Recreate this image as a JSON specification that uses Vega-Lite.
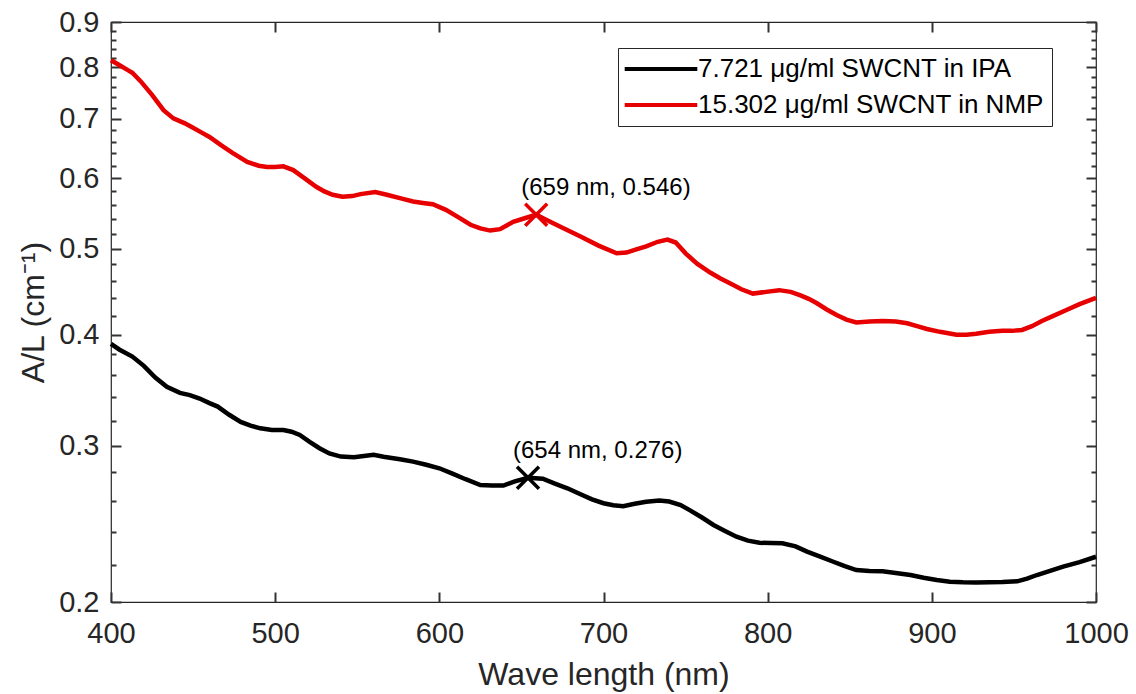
{
  "$schema": "https://vega.github.io/schema/vega-lite/v6.json",
  "width": 985,
  "height": 580,
  "autosize": {"type": "none"},
  "padding": {"left": 111, "top": 22, "right": 40, "bottom": 92},
  "background": "white",
  "config": {
    "font": "Liberation Sans",
    "view": {"stroke": "#262626", "strokeWidth": 1.2},
    "axis": {
      "grid": false,
      "labelFont": "Liberation Sans",
      "titleFont": "Liberation Sans",
      "labelColor": "#262626",
      "titleColor": "#262626",
      "titleFontWeight": "normal"
    }
  },
  "datasets": {
    "curves": [
      {"s": "15.302 μg/ml SWCNT in NMP", "wl": 400, "v": 0.815},
      {"s": "15.302 μg/ml SWCNT in NMP", "wl": 405, "v": 0.805},
      {"s": "15.302 μg/ml SWCNT in NMP", "wl": 410, "v": 0.795},
      {"s": "15.302 μg/ml SWCNT in NMP", "wl": 413, "v": 0.789},
      {"s": "15.302 μg/ml SWCNT in NMP", "wl": 418, "v": 0.772},
      {"s": "15.302 μg/ml SWCNT in NMP", "wl": 425, "v": 0.745},
      {"s": "15.302 μg/ml SWCNT in NMP", "wl": 432, "v": 0.716},
      {"s": "15.302 μg/ml SWCNT in NMP", "wl": 438, "v": 0.701},
      {"s": "15.302 μg/ml SWCNT in NMP", "wl": 445, "v": 0.692},
      {"s": "15.302 μg/ml SWCNT in NMP", "wl": 450, "v": 0.684},
      {"s": "15.302 μg/ml SWCNT in NMP", "wl": 455, "v": 0.676},
      {"s": "15.302 μg/ml SWCNT in NMP", "wl": 460, "v": 0.668},
      {"s": "15.302 μg/ml SWCNT in NMP", "wl": 467, "v": 0.654},
      {"s": "15.302 μg/ml SWCNT in NMP", "wl": 474, "v": 0.641},
      {"s": "15.302 μg/ml SWCNT in NMP", "wl": 483, "v": 0.626},
      {"s": "15.302 μg/ml SWCNT in NMP", "wl": 490, "v": 0.62},
      {"s": "15.302 μg/ml SWCNT in NMP", "wl": 495, "v": 0.618},
      {"s": "15.302 μg/ml SWCNT in NMP", "wl": 500, "v": 0.618},
      {"s": "15.302 μg/ml SWCNT in NMP", "wl": 505, "v": 0.619},
      {"s": "15.302 μg/ml SWCNT in NMP", "wl": 511, "v": 0.613},
      {"s": "15.302 μg/ml SWCNT in NMP", "wl": 518, "v": 0.6},
      {"s": "15.302 μg/ml SWCNT in NMP", "wl": 525, "v": 0.587},
      {"s": "15.302 μg/ml SWCNT in NMP", "wl": 530, "v": 0.58},
      {"s": "15.302 μg/ml SWCNT in NMP", "wl": 535, "v": 0.575},
      {"s": "15.302 μg/ml SWCNT in NMP", "wl": 541, "v": 0.572},
      {"s": "15.302 μg/ml SWCNT in NMP", "wl": 547, "v": 0.573},
      {"s": "15.302 μg/ml SWCNT in NMP", "wl": 552, "v": 0.576},
      {"s": "15.302 μg/ml SWCNT in NMP", "wl": 561, "v": 0.579},
      {"s": "15.302 μg/ml SWCNT in NMP", "wl": 568, "v": 0.575},
      {"s": "15.302 μg/ml SWCNT in NMP", "wl": 576, "v": 0.57},
      {"s": "15.302 μg/ml SWCNT in NMP", "wl": 584, "v": 0.565},
      {"s": "15.302 μg/ml SWCNT in NMP", "wl": 590, "v": 0.563},
      {"s": "15.302 μg/ml SWCNT in NMP", "wl": 596, "v": 0.561},
      {"s": "15.302 μg/ml SWCNT in NMP", "wl": 604, "v": 0.553},
      {"s": "15.302 μg/ml SWCNT in NMP", "wl": 612, "v": 0.542},
      {"s": "15.302 μg/ml SWCNT in NMP", "wl": 619, "v": 0.532},
      {"s": "15.302 μg/ml SWCNT in NMP", "wl": 625, "v": 0.527},
      {"s": "15.302 μg/ml SWCNT in NMP", "wl": 631, "v": 0.524},
      {"s": "15.302 μg/ml SWCNT in NMP", "wl": 637, "v": 0.526},
      {"s": "15.302 μg/ml SWCNT in NMP", "wl": 645, "v": 0.536},
      {"s": "15.302 μg/ml SWCNT in NMP", "wl": 652, "v": 0.541},
      {"s": "15.302 μg/ml SWCNT in NMP", "wl": 659, "v": 0.546},
      {"s": "15.302 μg/ml SWCNT in NMP", "wl": 665, "v": 0.539},
      {"s": "15.302 μg/ml SWCNT in NMP", "wl": 675, "v": 0.528},
      {"s": "15.302 μg/ml SWCNT in NMP", "wl": 686, "v": 0.516},
      {"s": "15.302 μg/ml SWCNT in NMP", "wl": 697, "v": 0.504},
      {"s": "15.302 μg/ml SWCNT in NMP", "wl": 708, "v": 0.494},
      {"s": "15.302 μg/ml SWCNT in NMP", "wl": 714, "v": 0.495},
      {"s": "15.302 μg/ml SWCNT in NMP", "wl": 720, "v": 0.499},
      {"s": "15.302 μg/ml SWCNT in NMP", "wl": 726, "v": 0.503},
      {"s": "15.302 μg/ml SWCNT in NMP", "wl": 733, "v": 0.509},
      {"s": "15.302 μg/ml SWCNT in NMP", "wl": 739, "v": 0.512},
      {"s": "15.302 μg/ml SWCNT in NMP", "wl": 744, "v": 0.508},
      {"s": "15.302 μg/ml SWCNT in NMP", "wl": 750, "v": 0.494},
      {"s": "15.302 μg/ml SWCNT in NMP", "wl": 757, "v": 0.481},
      {"s": "15.302 μg/ml SWCNT in NMP", "wl": 765, "v": 0.47},
      {"s": "15.302 μg/ml SWCNT in NMP", "wl": 771, "v": 0.463},
      {"s": "15.302 μg/ml SWCNT in NMP", "wl": 777, "v": 0.457},
      {"s": "15.302 μg/ml SWCNT in NMP", "wl": 784, "v": 0.45},
      {"s": "15.302 μg/ml SWCNT in NMP", "wl": 791, "v": 0.445},
      {"s": "15.302 μg/ml SWCNT in NMP", "wl": 799, "v": 0.447},
      {"s": "15.302 μg/ml SWCNT in NMP", "wl": 807, "v": 0.449},
      {"s": "15.302 μg/ml SWCNT in NMP", "wl": 814, "v": 0.447},
      {"s": "15.302 μg/ml SWCNT in NMP", "wl": 820, "v": 0.443},
      {"s": "15.302 μg/ml SWCNT in NMP", "wl": 825, "v": 0.439},
      {"s": "15.302 μg/ml SWCNT in NMP", "wl": 830, "v": 0.434},
      {"s": "15.302 μg/ml SWCNT in NMP", "wl": 836, "v": 0.427},
      {"s": "15.302 μg/ml SWCNT in NMP", "wl": 842, "v": 0.421},
      {"s": "15.302 μg/ml SWCNT in NMP", "wl": 848, "v": 0.416},
      {"s": "15.302 μg/ml SWCNT in NMP", "wl": 854, "v": 0.413},
      {"s": "15.302 μg/ml SWCNT in NMP", "wl": 862, "v": 0.414},
      {"s": "15.302 μg/ml SWCNT in NMP", "wl": 870, "v": 0.4145},
      {"s": "15.302 μg/ml SWCNT in NMP", "wl": 878, "v": 0.414},
      {"s": "15.302 μg/ml SWCNT in NMP", "wl": 885, "v": 0.412},
      {"s": "15.302 μg/ml SWCNT in NMP", "wl": 891, "v": 0.409},
      {"s": "15.302 μg/ml SWCNT in NMP", "wl": 897, "v": 0.406},
      {"s": "15.302 μg/ml SWCNT in NMP", "wl": 905, "v": 0.403},
      {"s": "15.302 μg/ml SWCNT in NMP", "wl": 915, "v": 0.4},
      {"s": "15.302 μg/ml SWCNT in NMP", "wl": 921, "v": 0.4},
      {"s": "15.302 μg/ml SWCNT in NMP", "wl": 927, "v": 0.401},
      {"s": "15.302 μg/ml SWCNT in NMP", "wl": 935, "v": 0.403},
      {"s": "15.302 μg/ml SWCNT in NMP", "wl": 943, "v": 0.404},
      {"s": "15.302 μg/ml SWCNT in NMP", "wl": 949, "v": 0.404},
      {"s": "15.302 μg/ml SWCNT in NMP", "wl": 955, "v": 0.405},
      {"s": "15.302 μg/ml SWCNT in NMP", "wl": 961, "v": 0.409},
      {"s": "15.302 μg/ml SWCNT in NMP", "wl": 967, "v": 0.4145},
      {"s": "15.302 μg/ml SWCNT in NMP", "wl": 974, "v": 0.42},
      {"s": "15.302 μg/ml SWCNT in NMP", "wl": 982, "v": 0.4265},
      {"s": "15.302 μg/ml SWCNT in NMP", "wl": 990, "v": 0.433},
      {"s": "15.302 μg/ml SWCNT in NMP", "wl": 1000, "v": 0.44},
      {"s": "7.721 μg/ml SWCNT in IPA", "wl": 400, "v": 0.3905},
      {"s": "7.721 μg/ml SWCNT in IPA", "wl": 405, "v": 0.385},
      {"s": "7.721 μg/ml SWCNT in IPA", "wl": 413, "v": 0.378},
      {"s": "7.721 μg/ml SWCNT in IPA", "wl": 420, "v": 0.369},
      {"s": "7.721 μg/ml SWCNT in IPA", "wl": 427, "v": 0.358},
      {"s": "7.721 μg/ml SWCNT in IPA", "wl": 434, "v": 0.3495},
      {"s": "7.721 μg/ml SWCNT in IPA", "wl": 442, "v": 0.344},
      {"s": "7.721 μg/ml SWCNT in IPA", "wl": 448, "v": 0.342},
      {"s": "7.721 μg/ml SWCNT in IPA", "wl": 454, "v": 0.339},
      {"s": "7.721 μg/ml SWCNT in IPA", "wl": 460, "v": 0.335},
      {"s": "7.721 μg/ml SWCNT in IPA", "wl": 465, "v": 0.332},
      {"s": "7.721 μg/ml SWCNT in IPA", "wl": 472, "v": 0.325},
      {"s": "7.721 μg/ml SWCNT in IPA", "wl": 479, "v": 0.319},
      {"s": "7.721 μg/ml SWCNT in IPA", "wl": 485, "v": 0.316},
      {"s": "7.721 μg/ml SWCNT in IPA", "wl": 491, "v": 0.3138},
      {"s": "7.721 μg/ml SWCNT in IPA", "wl": 498, "v": 0.3125},
      {"s": "7.721 μg/ml SWCNT in IPA", "wl": 505, "v": 0.3124},
      {"s": "7.721 μg/ml SWCNT in IPA", "wl": 510, "v": 0.311},
      {"s": "7.721 μg/ml SWCNT in IPA", "wl": 515, "v": 0.3084},
      {"s": "7.721 μg/ml SWCNT in IPA", "wl": 521, "v": 0.303},
      {"s": "7.721 μg/ml SWCNT in IPA", "wl": 527, "v": 0.298},
      {"s": "7.721 μg/ml SWCNT in IPA", "wl": 533, "v": 0.294},
      {"s": "7.721 μg/ml SWCNT in IPA", "wl": 540, "v": 0.2916},
      {"s": "7.721 μg/ml SWCNT in IPA", "wl": 548, "v": 0.2912},
      {"s": "7.721 μg/ml SWCNT in IPA", "wl": 554, "v": 0.292},
      {"s": "7.721 μg/ml SWCNT in IPA", "wl": 560, "v": 0.2929},
      {"s": "7.721 μg/ml SWCNT in IPA", "wl": 566, "v": 0.2915},
      {"s": "7.721 μg/ml SWCNT in IPA", "wl": 576, "v": 0.2896},
      {"s": "7.721 μg/ml SWCNT in IPA", "wl": 584, "v": 0.2878},
      {"s": "7.721 μg/ml SWCNT in IPA", "wl": 592, "v": 0.2855},
      {"s": "7.721 μg/ml SWCNT in IPA", "wl": 600, "v": 0.2829},
      {"s": "7.721 μg/ml SWCNT in IPA", "wl": 608, "v": 0.279},
      {"s": "7.721 μg/ml SWCNT in IPA", "wl": 616, "v": 0.275},
      {"s": "7.721 μg/ml SWCNT in IPA", "wl": 625, "v": 0.2709},
      {"s": "7.721 μg/ml SWCNT in IPA", "wl": 632, "v": 0.2705},
      {"s": "7.721 μg/ml SWCNT in IPA", "wl": 639, "v": 0.2705},
      {"s": "7.721 μg/ml SWCNT in IPA", "wl": 646, "v": 0.2735},
      {"s": "7.721 μg/ml SWCNT in IPA", "wl": 654, "v": 0.276},
      {"s": "7.721 μg/ml SWCNT in IPA", "wl": 663, "v": 0.2753},
      {"s": "7.721 μg/ml SWCNT in IPA", "wl": 670, "v": 0.272},
      {"s": "7.721 μg/ml SWCNT in IPA", "wl": 678, "v": 0.2686},
      {"s": "7.721 μg/ml SWCNT in IPA", "wl": 686, "v": 0.2645},
      {"s": "7.721 μg/ml SWCNT in IPA", "wl": 693, "v": 0.261},
      {"s": "7.721 μg/ml SWCNT in IPA", "wl": 700, "v": 0.2584},
      {"s": "7.721 μg/ml SWCNT in IPA", "wl": 706, "v": 0.257},
      {"s": "7.721 μg/ml SWCNT in IPA", "wl": 712, "v": 0.2564},
      {"s": "7.721 μg/ml SWCNT in IPA", "wl": 719, "v": 0.258},
      {"s": "7.721 μg/ml SWCNT in IPA", "wl": 726, "v": 0.2594},
      {"s": "7.721 μg/ml SWCNT in IPA", "wl": 734, "v": 0.2602},
      {"s": "7.721 μg/ml SWCNT in IPA", "wl": 740, "v": 0.2595},
      {"s": "7.721 μg/ml SWCNT in IPA", "wl": 747, "v": 0.2572},
      {"s": "7.721 μg/ml SWCNT in IPA", "wl": 753, "v": 0.2535},
      {"s": "7.721 μg/ml SWCNT in IPA", "wl": 760, "v": 0.249},
      {"s": "7.721 μg/ml SWCNT in IPA", "wl": 767, "v": 0.2442},
      {"s": "7.721 μg/ml SWCNT in IPA", "wl": 774, "v": 0.2405},
      {"s": "7.721 μg/ml SWCNT in IPA", "wl": 781, "v": 0.2369},
      {"s": "7.721 μg/ml SWCNT in IPA", "wl": 788, "v": 0.2345},
      {"s": "7.721 μg/ml SWCNT in IPA", "wl": 795, "v": 0.2332},
      {"s": "7.721 μg/ml SWCNT in IPA", "wl": 802, "v": 0.233},
      {"s": "7.721 μg/ml SWCNT in IPA", "wl": 809, "v": 0.2329},
      {"s": "7.721 μg/ml SWCNT in IPA", "wl": 817, "v": 0.231},
      {"s": "7.721 μg/ml SWCNT in IPA", "wl": 824, "v": 0.2279},
      {"s": "7.721 μg/ml SWCNT in IPA", "wl": 832, "v": 0.225},
      {"s": "7.721 μg/ml SWCNT in IPA", "wl": 840, "v": 0.222},
      {"s": "7.721 μg/ml SWCNT in IPA", "wl": 847, "v": 0.2195},
      {"s": "7.721 μg/ml SWCNT in IPA", "wl": 854, "v": 0.2173},
      {"s": "7.721 μg/ml SWCNT in IPA", "wl": 862, "v": 0.2168},
      {"s": "7.721 μg/ml SWCNT in IPA", "wl": 870, "v": 0.2166},
      {"s": "7.721 μg/ml SWCNT in IPA", "wl": 878, "v": 0.2156},
      {"s": "7.721 μg/ml SWCNT in IPA", "wl": 887, "v": 0.2145},
      {"s": "7.721 μg/ml SWCNT in IPA", "wl": 895, "v": 0.213},
      {"s": "7.721 μg/ml SWCNT in IPA", "wl": 903, "v": 0.2117},
      {"s": "7.721 μg/ml SWCNT in IPA", "wl": 911, "v": 0.2108},
      {"s": "7.721 μg/ml SWCNT in IPA", "wl": 919, "v": 0.2105},
      {"s": "7.721 μg/ml SWCNT in IPA", "wl": 927, "v": 0.2104},
      {"s": "7.721 μg/ml SWCNT in IPA", "wl": 935, "v": 0.2105},
      {"s": "7.721 μg/ml SWCNT in IPA", "wl": 943, "v": 0.2106},
      {"s": "7.721 μg/ml SWCNT in IPA", "wl": 952, "v": 0.211},
      {"s": "7.721 μg/ml SWCNT in IPA", "wl": 958, "v": 0.2125},
      {"s": "7.721 μg/ml SWCNT in IPA", "wl": 964, "v": 0.2145},
      {"s": "7.721 μg/ml SWCNT in IPA", "wl": 972, "v": 0.2168},
      {"s": "7.721 μg/ml SWCNT in IPA", "wl": 980, "v": 0.2192},
      {"s": "7.721 μg/ml SWCNT in IPA", "wl": 990, "v": 0.2218},
      {"s": "7.721 μg/ml SWCNT in IPA", "wl": 1000, "v": 0.2249}
    ],
    "peaks": [
      {"s": "15.302 μg/ml SWCNT in NMP", "wl": 659, "v": 0.546, "label": "(659 nm, 0.546)"},
      {"s": "7.721 μg/ml SWCNT in IPA", "wl": 654, "v": 0.276, "label": "(654 nm, 0.276)"}
    ]
  },
  "resolve": {"axis": {"x": "independent", "y": "independent"}},
  "layer": [
    {
      "data": {"name": "curves"},
      "mark": {"type": "line", "strokeWidth": 4.5, "interpolate": "linear"},
      "encoding": {
        "x": {
          "field": "wl", "type": "quantitative",
          "scale": {"domain": [400, 1000], "nice": false, "zero": false},
          "axis": {
            "orient": "bottom", "title": "Wave length (nm)",
            "values": [400, 500, 600, 700, 800, 900, 1000],
            "format": "d", "domain": false,
            "ticks": false, "tickSize": 0, "labelPadding": 17, "titlePadding": 11,
            "labelFontSize": 29, "titleFontSize": 32,
            "labelFlush": false, "labelOverlap": false
          }
        },
        "y": {
          "field": "v", "type": "quantitative",
          "scale": {"type": "log", "domain": [0.2, 0.9], "nice": false, "zero": false},
          "axis": {
            "orient": "left", "title": "A/L (cm⁻¹)",
            "values": [0.2, 0.3, 0.4, 0.5, 0.6, 0.7, 0.8, 0.9],
            "format": ".1f", "domain": false,
            "ticks": true, "tickColor": "#333333", "tickWidth": 2, "tickOpacity": 1,
            "tickSize": -10, "labelPadding": 22, "titlePadding": 8,
            "labelFontSize": 29, "titleFontSize": 32,
            "labelFlush": false, "labelOverlap": false
          }
        },
        "color": {
          "field": "s", "type": "nominal",
          "scale": {
            "domain": ["7.721 μg/ml SWCNT in IPA", "15.302 μg/ml SWCNT in NMP"],
            "range": ["#000000", "#e60000"]
          },
          "legend": {
            "orient": "none", "legendX": 507, "legendY": 26,
            "title": null,
            "symbolType": "M-3.3,0L3.3,0",
            "symbolSize": 484,
            "symbolStrokeWidth": 4,
            "labelFont": "Liberation Sans",
            "labelFontSize": 26,
            "labelColor": "#000000",
            "labelLimit": 600,
            "strokeColor": "#262626",
            "fillColor": "white",
            "padding": 8,
            "rowPadding": 10,
            "symbolOffset": 22,
            "labelOffset": 24
          }
        }
      }
    },
    {
      "data": {"name": "peaks"},
      "mark": {"type": "point", "shape": "M-1,-1L1,1M1,-1L-1,1", "size": 484, "filled": false, "strokeWidth": 3.5, "opacity": 1},
      "encoding": {
        "x": {
          "field": "wl", "type": "quantitative",
          "axis": {
            "orient": "top", "title": null, "labels": false, "domain": false,
            "ticks": true, "tickColor": "#333333", "tickWidth": 2, "tickOpacity": 1,
            "values": [400, 500, 600, 700, 800, 900, 1000],
            "tickSize": -10
          }
        },
        "y": {
          "field": "v", "type": "quantitative",
          "axis": {
            "orient": "right", "title": null, "labels": false, "domain": false,
            "ticks": true, "tickColor": "#333333", "tickWidth": 2, "tickOpacity": 1,
            "values": [0.2, 0.3, 0.4, 0.5, 0.6, 0.7, 0.8, 0.9],
            "tickSize": -10
          }
        },
        "stroke": {
          "field": "s", "type": "nominal",
          "scale": {
            "domain": ["7.721 μg/ml SWCNT in IPA", "15.302 μg/ml SWCNT in NMP"],
            "range": ["#000000", "#e60000"]
          },
          "legend": null
        }
      }
    },
    {
      "data": {"name": "peaks"},
      "mark": {"type": "text", "align": "left", "baseline": "alphabetic", "dx": -15, "dy": -20, "fontSize": 24, "font": "Liberation Sans", "color": "#000000"},
      "encoding": {
        "x": {
          "field": "wl", "type": "quantitative",
          "axis": {
            "orient": "bottom", "title": null, "labels": false, "domain": false,
            "ticks": true, "tickColor": "#333333", "tickWidth": 2, "tickOpacity": 1,
            "values": [400, 500, 600, 700, 800, 900, 1000],
            "offset": -10, "tickSize": 10
          }
        },
        "y": {
          "field": "v", "type": "quantitative",
          "axis": {
            "orient": "left", "title": null, "labels": false, "domain": false,
            "ticks": true, "tickColor": "#333333", "tickWidth": 2, "tickOpacity": 1,
            "values": [0.22, 0.24, 0.26, 0.28, 0.32, 0.34, 0.36, 0.38, 0.42, 0.44, 0.46, 0.48, 0.52, 0.54, 0.56, 0.58, 0.62, 0.64, 0.66, 0.68, 0.72, 0.74, 0.76, 0.78, 0.82, 0.84, 0.86, 0.88],
            "tickSize": -5
          }
        },
        "text": {"field": "label"}
      }
    },
    {
      "data": {"values": []},
      "mark": {"type": "point", "opacity": 0},
      "encoding": {
        "x": {"field": "wl", "type": "quantitative", "axis": null},
        "y": {
          "field": "v", "type": "quantitative",
          "axis": {
            "orient": "right", "title": null, "labels": false, "domain": false,
            "ticks": true, "tickColor": "#333333", "tickWidth": 2, "tickOpacity": 1,
            "values": [0.22, 0.24, 0.26, 0.28, 0.32, 0.34, 0.36, 0.38, 0.42, 0.44, 0.46, 0.48, 0.52, 0.54, 0.56, 0.58, 0.62, 0.64, 0.66, 0.68, 0.72, 0.74, 0.76, 0.78, 0.82, 0.84, 0.86, 0.88],
            "tickSize": -5
          }
        }
      }
    }
  ]
}
